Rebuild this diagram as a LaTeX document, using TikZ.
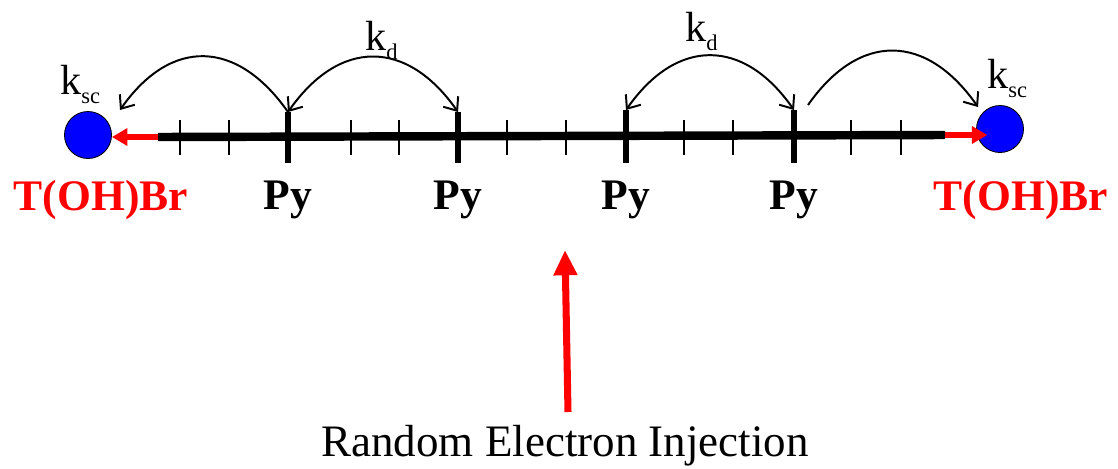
\documentclass[tikz,border=0pt]{standalone}
\usepackage{fontspec}
\setmainfont{Liberation Serif}
\usetikzlibrary{arrows.meta}
\usetikzlibrary{positioning}
\usepackage{xcolor}

\newcommand{\rate}[1]{k\raisebox{-6.5pt}{\fontsize{16}{16}\selectfont #1}}

\begin{document}
\begin{tikzpicture}[x=0.025cm,y=0.025cm,
  bead/.style={circle,draw=black,line width=0.6pt,fill=blue,minimum size=1.175cm,inner sep=0pt},
  hop/.style={line width=1.4pt,-{Straight Barb[length=8pt,width=13pt]},out=125,in=55,looseness=1.35},
  hopback/.style={line width=1.4pt,{Straight Barb[length=8pt,width=13pt]}-{Straight Barb[length=8pt,width=13pt]},out=55,in=125,looseness=1.35},
  trap/.style={red,line width=3.8pt,-{Triangle[length=11pt,width=12pt]}},
  pyname/.style={anchor=base,font=\fontsize{31}{36}\selectfont\bfseries},
  ratename/.style={anchor=base west,inner sep=0pt,font=\fontsize{30}{34}\selectfont}]
\useasboundingbox (0,0) rectangle (1118,-468);

% chain with the two traps
\node[bead] (bl) at (88,-135) {};
\node[bead] (br) at (1000,-129) {};
\coordinate (lineL) at (158,-137);
\coordinate (lineR) at (945,-135);
\draw[line width=6pt] (lineL) -- (lineR);
\draw[trap] (lineL) -- (bl.east |- lineL);
\draw[trap] (lineR) -- ([xshift=8]br.west |- lineR);

% small ticks
\draw[line width=2pt] (180,-120) -- (180,-155);
\draw[line width=2pt] (229,-120) -- (229,-155);
\draw[line width=2pt] (351,-120) -- (351,-155);
\draw[line width=2pt] (399,-120) -- (399,-155);
\draw[line width=2pt] (507,-120) -- (507,-155);
\draw[line width=2pt] (566,-120) -- (566,-155);
\draw[line width=2pt] (684,-120) -- (684,-155);
\draw[line width=2pt] (733,-120) -- (733,-155);
\draw[line width=2pt] (851,-120) -- (851,-155);
\draw[line width=2pt] (901,-120) -- (901,-155);

% Py sites
\coordinate (py1) at (288,-112);
\coordinate (py2) at (458,-112);
\coordinate (py3) at (626,-110);
\coordinate (py4) at (794,-110);
\draw[line width=4pt] (py1) -- (288,-163);
\draw[line width=4pt] (py2) -- (458,-163);
\draw[line width=4pt] (py3) -- (626,-163);
\draw[line width=4pt] (py4) -- (794,-163);
\node[pyname] (n1) at (288,-209) {Py};
\node[pyname] (n2) at (458,-209) {Py};
\node[pyname] (n3) at (626,-209) {Py};
\node[pyname] (n4) at (794,-209) {Py};
\node[pyname,red] (tl) at (101,-210) {T(OH)Br};
\node[pyname,red] (tr) at (1021,-210) {T(OH)Br};

% hopping
\coordinate (catchL) at (120,-110);
\coordinate (leave4) at (808,-105);
\coordinate (catchR) at (978,-107);
\draw[hop] (py1) to (catchL);
\draw[hopback] (py1) to (py2);
\draw[hopback] (py3) to (py4);
\draw[hop,out=55,in=125] (leave4) to (catchR);
\node[ratename] (ksc1) at (60,-94) {\rate{sc}};
\node[ratename] (ksc2) at (987,-88) {\rate{sc}};
\node[ratename] (kd1) at (365,-50) {\rate{d}};
\node[ratename] (kd2) at (685,-41) {\rate{d}};

% injection
\coordinate (inj) at (568,-412);
\coordinate (hit) at (565,-250);
\draw[red,line width=5pt,-{Triangle[length=18pt,width=16pt]}] (inj) -- (hit);
\node[anchor=base,font=\fontsize{32}{36}\selectfont] (lab) at (565,-456) {Random Electron Injection};
\end{tikzpicture}
\end{document}
